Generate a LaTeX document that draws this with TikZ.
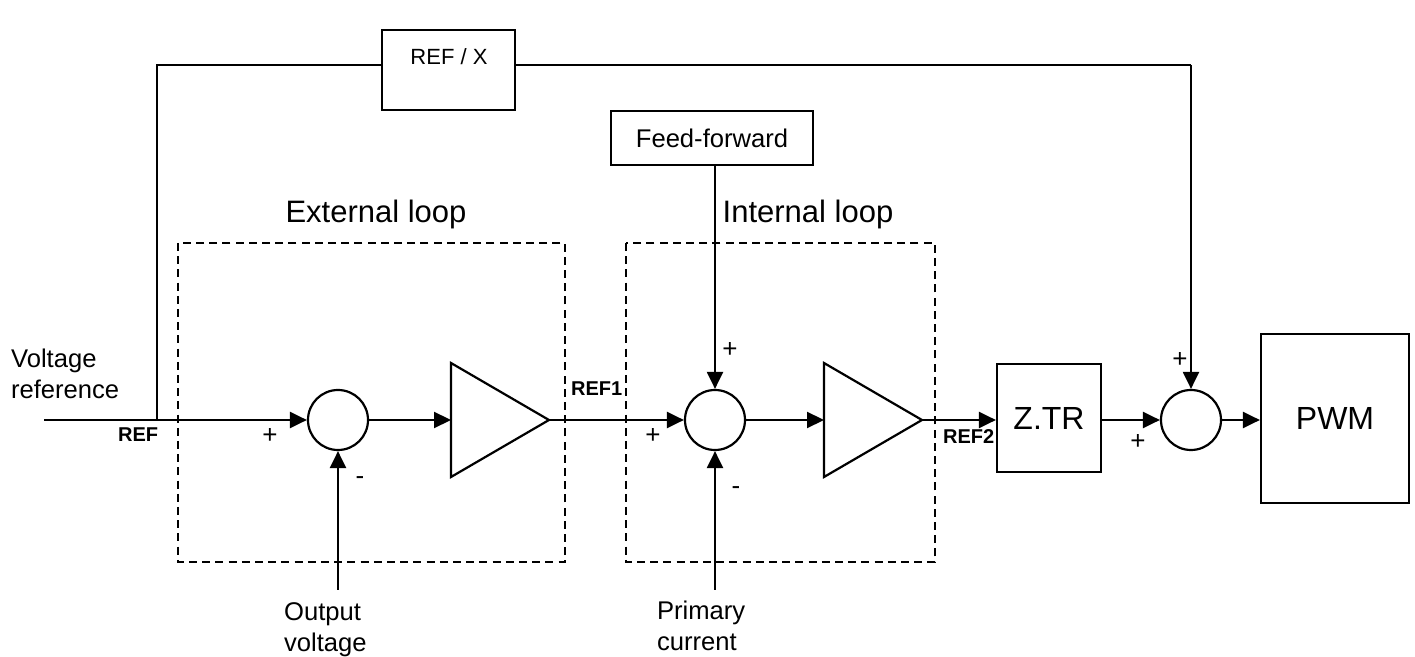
\documentclass[tikz,border=0pt]{standalone}
\usepackage{fontspec}
\setmainfont{Liberation Sans}
\usetikzlibrary{arrows.meta}
\begin{document}
\begin{tikzpicture}[x=0.5pt,y=-0.5pt,
  line width=1.1pt,
  sig/.style={-{Triangle[length=8.5pt,width=8pt]}},
  sum/.style={circle,draw,minimum size=30pt,inner sep=0pt},
  blk/.style={draw,inner sep=0pt},
  loopbox/.style={line width=0.9pt,dash pattern=on 4pt off 2.6pt},
  txt/.style={font=\fontsize{12.8}{15.5}\selectfont,inner sep=0pt,align=left},
  sgn/.style={font=\fontsize{13}{15}\selectfont,inner sep=0pt},
  tag/.style={font=\fontsize{10}{12}\selectfont\bfseries,inner sep=0pt},
  ttl/.style={font=\fontsize{15.5}{18}\selectfont,inner sep=0pt}]
\useasboundingbox (0,0) rectangle (1415,657);

% loop frames
\draw[loopbox] (178,243) rectangle (565,562);
\draw[loopbox] (626,243) rectangle (935,562);
\node[ttl,anchor=base] (extl) at (376,223) {External loop};
\node[ttl,anchor=base] (intl) at (808,223) {Internal loop};

% blocks
\node[blk,minimum width=66.5pt,minimum height=40pt] (refx) at (448.5,70) {};
\node[font=\fontsize{11}{13}\selectfont,inner sep=0pt] (refxt) at (449,57) {REF / X};
\node[blk,minimum width=101pt,minimum height=27pt,font=\fontsize{12.8}{15}\selectfont] (ff) at (712,138) {Feed-forward};
\node[blk,minimum width=52pt,minimum height=54pt,font=\fontsize{16}{19}\selectfont] (ztr) at (1049,418) {Z.TR};
\node[blk,minimum width=74pt,minimum height=84.5pt,font=\fontsize{16}{19}\selectfont] (pwm) at (1335,418.5) {PWM};

% summing junctions
\node[sum] (s1) at (338,420) {};
\node[sum] (s2) at (715,420) {};
\node[sum] (s3) at (1191,420) {};

% amplifiers
\draw (451,363) -- (549,420) -- (451,477) -- cycle;
\coordinate (a1in) at (451,420);
\coordinate (a1out) at (549,420);
\draw (824,363) -- (922,420) -- (824,477) -- cycle;
\coordinate (a2in) at (824,420);
\coordinate (a2out) at (922,420);

% signal endpoints
\coordinate (vin) at (44,420);
\coordinate (jref) at (157,420);
\coordinate (tl) at (157,65);
\coordinate (tr) at (1191,65);
\coordinate (vout) at (338,590);
\coordinate (iprim) at (715,590);

% connections
\draw (vin) -- (jref);
\draw[sig] (jref) -- (s1.west);
\draw (jref) -- (tl) -- (tl -| refx.west);
\draw (refx.east |- tr) -- (tr);
\draw[sig] (tr) -- (s3.north);
\draw[sig] (s1.east) -- (a1in);
\draw[sig] (a1out) -- (s2.west);
\draw[sig] (vout) -- (s1.south);
\draw[sig] (iprim) -- (s2.south);
\draw[sig] (ff.south -| s2.north) -- (s2.north);
\draw[sig] (s2.east) -- (a2in);
\draw[sig] (a2out) -- (a2out -| ztr.west);
\draw[sig] (ztr.east |- s3.west) -- (s3.west);
\draw[sig] (s3.east) -- (s3.east -| pwm.west);

% texts
\node[txt,anchor=base west] (vref) at (10,399) {Voltage\\reference};
\node[txt,anchor=base west] (vo) at (283,652) {Output\\voltage};
\node[txt,anchor=base west] (ip) at (656,651) {Primary\\current};
\node[tag,anchor=base west] (tref) at (117,442) {REF};
\node[tag,anchor=base west] (tref1) at (570,396) {REF1};
\node[tag,anchor=base west] (tref2) at (942,444) {REF2};

% signs
\node[sgn] (p1) at (270,436) {+};
\node[sgn] (m1) at (360,481) {-};
\node[sgn] (p2a) at (653,436) {+};
\node[sgn] (p2b) at (730,350) {+};
\node[sgn] (m2) at (736,491) {-};
\node[sgn] (p3a) at (1180,360) {+};
\node[sgn] (p3b) at (1138,442) {+};
\end{tikzpicture}
\end{document}
